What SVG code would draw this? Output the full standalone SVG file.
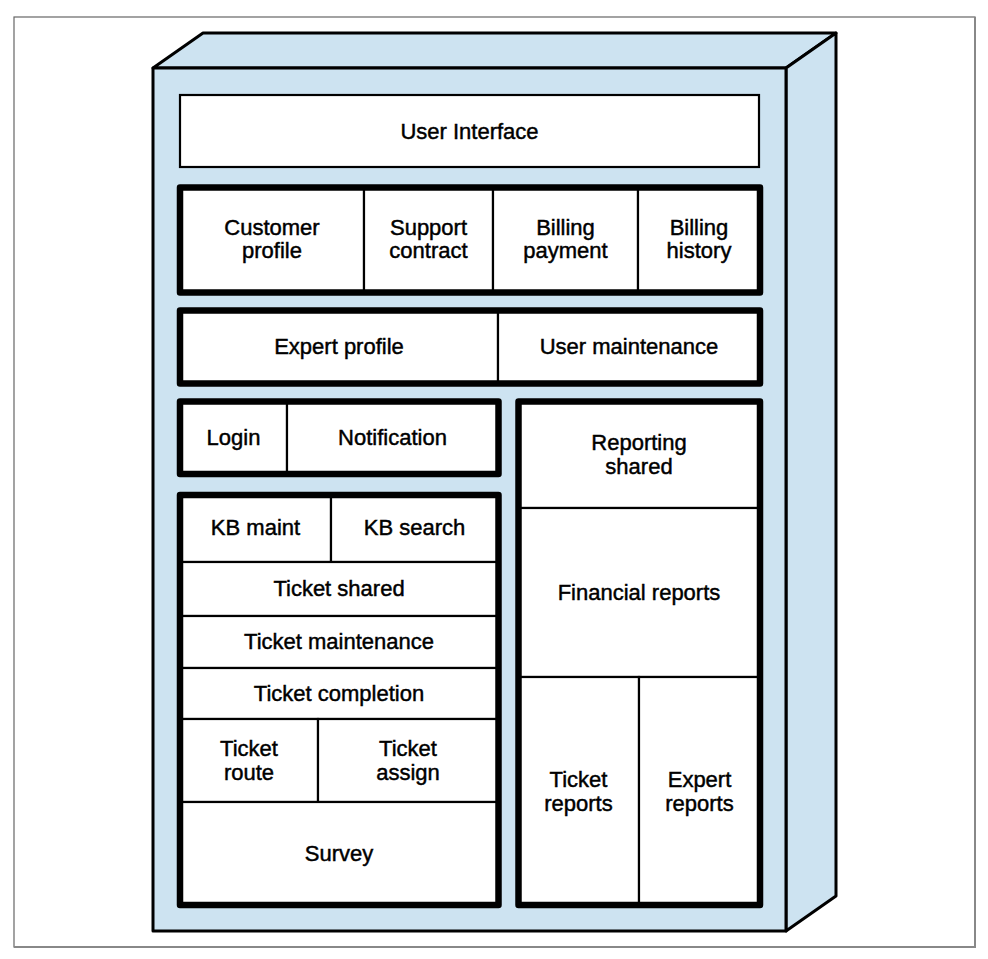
<svg xmlns="http://www.w3.org/2000/svg" width="988" height="959" viewBox="0 0 988 959">
<style>
.face{fill:#cde3f1;stroke:#000;stroke-width:3;stroke-linejoin:round}
.cell{fill:#fff;stroke:#000;stroke-width:2.2}
.box{fill:none;stroke:#000;stroke-width:6.5;stroke-linejoin:round}
text{font-family:"Liberation Sans",Arial,sans-serif;font-size:22px;fill:#000;stroke:#000;stroke-width:0.45;text-anchor:middle}
</style>
<rect x="0" y="0" width="988" height="959" fill="#fff"/>
<rect x="14" y="17" width="961" height="930" fill="none" stroke="#666" stroke-width="1.2"/>
<path d="M975 17 V947 H14" fill="none" stroke="#888" stroke-width="2"/>
<g id="cabinet">
<polygon class="face" points="153,68 203,33 836,33 786,68"/>
<polygon class="face" points="786,68 836,33 836,896 786,931"/>
<rect class="face" x="153" y="68" width="633" height="863"/>
</g>
<g id="user-interface"><rect class="cell" x="180" y="95" width="579" height="72"/><text x="469.5" y="139">User Interface</text></g>
<g id="customer-profile"><rect class="cell" x="180" y="187.5" width="184" height="105"/><text x="272" y="235">Customer</text><text x="272" y="258">profile</text></g>
<g id="support-contract"><rect class="cell" x="364" y="187.5" width="129" height="105"/><text x="428.5" y="235">Support</text><text x="428.5" y="258">contract</text></g>
<g id="billing-payment"><rect class="cell" x="493" y="187.5" width="145" height="105"/><text x="565.5" y="235">Billing</text><text x="565.5" y="258">payment</text></g>
<g id="billing-history"><rect class="cell" x="638" y="187.5" width="122" height="105"/><text x="699" y="235">Billing</text><text x="699" y="258">history</text></g>
<g id="expert-profile"><rect class="cell" x="180" y="310.5" width="318" height="73"/><text x="339" y="354">Expert profile</text></g>
<g id="user-maintenance"><rect class="cell" x="498" y="310.5" width="262" height="73"/><text x="629" y="354">User maintenance</text></g>
<g id="login"><rect class="cell" x="180" y="401.5" width="107" height="72.5"/><text x="233.5" y="445">Login</text></g>
<g id="notification"><rect class="cell" x="287" y="401.5" width="211.5" height="72.5"/><text x="392.5" y="445">Notification</text></g>
<g id="kb-maint"><rect class="cell" x="180" y="495" width="151" height="67"/><text x="255.5" y="535">KB maint</text></g>
<g id="kb-search"><rect class="cell" x="331" y="495" width="167.5" height="67"/><text x="414.5" y="535">KB search</text></g>
<g id="ticket-shared"><rect class="cell" x="180" y="562" width="318.5" height="54"/><text x="339" y="596">Ticket shared</text></g>
<g id="ticket-maintenance"><rect class="cell" x="180" y="616" width="318.5" height="52"/><text x="339" y="649">Ticket maintenance</text></g>
<g id="ticket-completion"><rect class="cell" x="180" y="668" width="318.5" height="51"/><text x="339" y="701">Ticket completion</text></g>
<g id="ticket-route"><rect class="cell" x="180" y="719" width="138" height="83"/><text x="249" y="756">Ticket</text><text x="249" y="780">route</text></g>
<g id="ticket-assign"><rect class="cell" x="318" y="719" width="180.5" height="83"/><text x="408" y="756">Ticket</text><text x="408" y="780">assign</text></g>
<g id="survey"><rect class="cell" x="180" y="802" width="318.5" height="103"/><text x="339" y="861">Survey</text></g>
<g id="reporting-shared"><rect class="cell" x="518.5" y="401.5" width="241.5" height="106.5"/><text x="639" y="450">Reporting</text><text x="639" y="474">shared</text></g>
<g id="financial-reports"><rect class="cell" x="518.5" y="508" width="241.5" height="169"/><text x="639" y="600">Financial reports</text></g>
<g id="ticket-reports"><rect class="cell" x="518.5" y="677" width="120.5" height="228"/><text x="578.5" y="787">Ticket</text><text x="578.5" y="811">reports</text></g>
<g id="expert-reports"><rect class="cell" x="639" y="677" width="121" height="228"/><text x="699.5" y="787">Expert</text><text x="699.5" y="811">reports</text></g>
<g id="containers">
<rect class="box" x="180" y="187.5" width="580" height="105"/>
<rect class="box" x="180" y="310.5" width="580" height="73"/>
<rect class="box" x="180" y="401.5" width="318.5" height="72.5"/>
<rect class="box" x="180" y="495" width="318.5" height="410"/>
<rect class="box" x="518.5" y="401.5" width="241.5" height="503.5"/>
</g>
</svg>
